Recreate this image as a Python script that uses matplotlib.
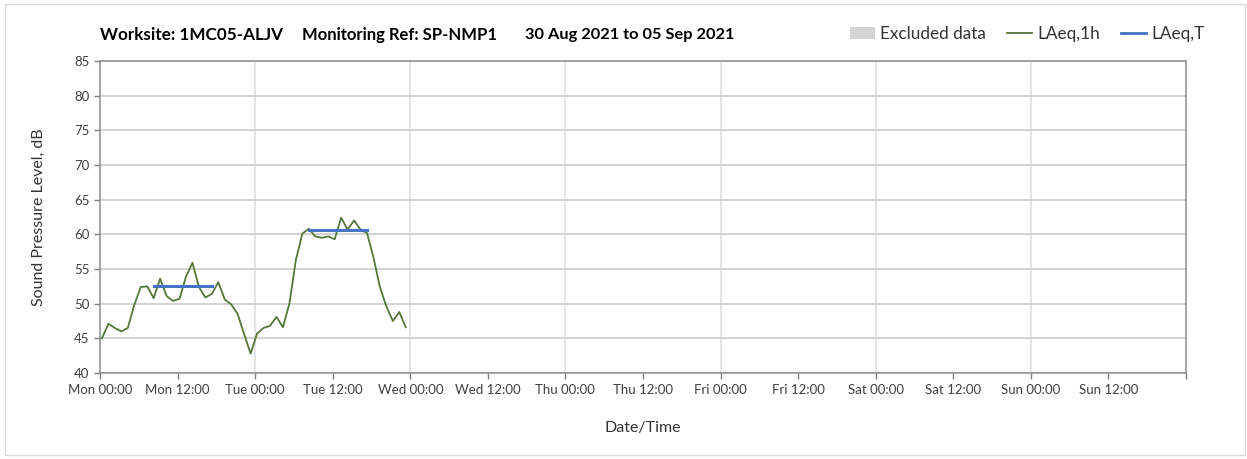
import numpy as np
import matplotlib
matplotlib.use("Agg")
import matplotlib.pyplot as plt
from matplotlib.lines import Line2D
from matplotlib.patches import Patch, Rectangle

plt.rcParams['font.family'] = ['Lato', 'DejaVu Sans']

# hourly LAeq,1h values from Mon 00:00
laeq_1h = [45.0, 47.1, 46.5, 46.0, 46.5, 49.8, 52.4, 52.5, 50.8, 53.6,
           51.1, 50.4, 50.7, 53.9, 55.9, 52.4, 50.9, 51.4, 53.1, 50.6,
           49.9, 48.5, 45.6, 42.8, 45.7, 46.5, 46.8, 48.1, 46.6, 50.0,
           56.3, 60.1, 60.8, 59.7, 59.5, 59.7, 59.3, 62.4, 60.7, 62.0,
           60.7, 60.2, 56.7, 52.4, 49.6, 47.5, 48.8, 46.6]

# LAeq,T periods: (start hour, end hour, level)
laeq_t_start = [8, 32]
laeq_t_end = [17, 41]
laeq_t_value = [52.5, 60.6]

tick_hours = list(range(0, 169, 12))
tick_labels = ['Mon 00:00', 'Mon 12:00', 'Tue 00:00', 'Tue 12:00', 'Wed 00:00',
               'Wed 12:00', 'Thu 00:00', 'Thu 12:00', 'Fri 00:00', 'Fri 12:00',
               'Sat 00:00', 'Sat 12:00', 'Sun 00:00', 'Sun 12:00', '']

title_parts = ['Worksite: 1MC05-ALJV', 'Monitoring Ref: SP-NMP1',
               '30 Aug 2021 to 05 Sep 2021']

green = '#56763c'
blue = '#4472c4'
W, H = 1247, 459

fig = plt.figure(figsize=(W / 100, H / 100), dpi=100)
ax = fig.add_axes([100 / W, 1 - 373 / H, 1086 / W, 312 / H])

hours = np.arange(len(laeq_1h)) + 0.3
ax.plot(hours, laeq_1h, color=green, lw=1.3, zorder=3)
for s, e, v in zip(laeq_t_start, laeq_t_end, laeq_t_value):
    ax.plot([s + 0.3, e + 0.3], [v, v], color=blue, lw=2.2, zorder=4)

ax.set_xlim(0, 168)
ax.set_ylim(40, 85)
ax.set_yticks(range(40, 86, 5))
ax.set_xticks(tick_hours)
ax.set_xticklabels(tick_labels)
ax.tick_params(axis='both', colors='#7f7f7f', labelcolor='#404040',
               labelsize=9.5, length=4, width=1)
ax.tick_params(axis='x', pad=4)

ax.grid(axis='y', color='#d0d0d0', lw=1.3)
for d in range(24, 168, 24):
    ax.axvline(d, color='#dedede', lw=1.1, zorder=0)
ax.set_axisbelow(True)
for sp in ax.spines.values():
    sp.set_color('#8c8c8c')
    sp.set_linewidth(1.1)

ax.set_ylabel('Sound Pressure Level, dB', fontsize=11.5, color='#333333', labelpad=20)
ax.set_xlabel('Date/Time', fontsize=11.5, color='#333333', labelpad=18)

ty = 1 - 35 / H
for xp, fs, txt in zip([100, 302, 525], [12.3, 12.0, 11.8], title_parts):
    fig.text(xp / W, ty, txt, fontsize=fs, fontweight='bold', va='center')

handles = [Patch(facecolor='#d4d4d4', edgecolor='none', label='Excluded data'),
           Line2D([], [], color=green, lw=1.3, label='LAeq,1h'),
           Line2D([], [], color=blue, lw=2, label='LAeq,T')]
fig.legend(handles=handles, ncol=3, loc='center right',
           bbox_to_anchor=(1220 / W, 1 - 34 / H), frameon=False,
           fontsize=12.3, handlelength=1.5, handletextpad=0.3,
           columnspacing=1.2, labelcolor='#333333')

fig.patches.append(Rectangle((5 / W, 4 / H), 1240 / W, 451 / H,
                             transform=fig.transFigure, fill=False,
                             edgecolor='#d9d9d9', lw=1))

fig.savefig('out.png', dpi=100)
